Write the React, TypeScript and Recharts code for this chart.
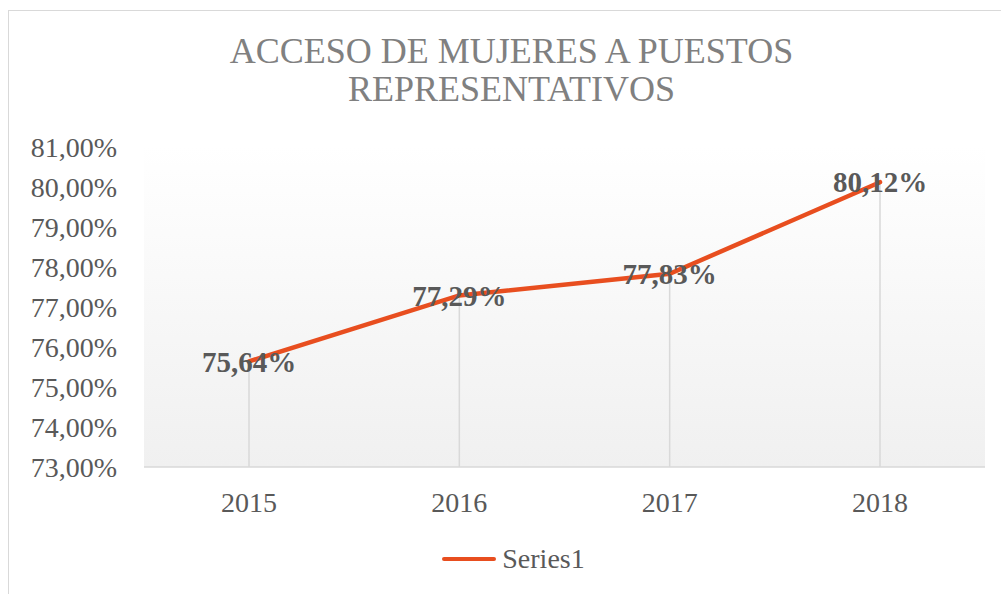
import React from "react";
import {
  LineChart,
  Line,
  XAxis,
  YAxis,
  CartesianGrid,
  ReferenceLine,
  LabelList,
  Legend,
} from "recharts";

const years = ["2015", "2016", "2017", "2018"];
const series1 = [0.7564, 0.7729, 0.7783, 0.8012];
const yTicks = [0.73, 0.74, 0.75, 0.76, 0.77, 0.78, 0.79, 0.8, 0.81];
const titleLines = ["ACCESO DE MUJERES A PUESTOS", "REPRESENTATIVOS"];

const data = years.map((year, i) => ({ year, value: series1[i] }));

const FONT = "Liberation Serif, Times New Roman, serif";
const LINE_COLOR = "#E84E1F";
const TEXT_COLOR = "#595959";

const pct = (v: number) => (v * 100).toFixed(2).replace(".", ",") + "%";

const tickStyle = { fontFamily: FONT, fontSize: 28, fill: TEXT_COLOR };

function LegendContent() {
  return (
    <div
      style={{
        display: "flex",
        justifyContent: "center",
        alignItems: "center",
        fontFamily: FONT,
        fontSize: 28,
        color: TEXT_COLOR,
      }}
    >
      <span
        style={{
          display: "inline-block",
          width: 54,
          height: 4,
          borderRadius: 2,
          background: LINE_COLOR,
          marginRight: 6,
        }}
      />
      <span>Series1</span>
    </div>
  );
}

export default function App() {
  return (
    <div
      style={{
        position: "fixed",
        left: 0,
        top: 0,
        width: 1001,
        height: 594,
        overflow: "hidden",
        background: "#fff",
        fontFamily: FONT,
      }}
    >
      <div
        style={{
          position: "absolute",
          left: 8,
          top: 10,
          width: 1100,
          height: 700,
          border: "1px solid #d9d9d9",
        }}
      />
      <div
        style={{
          position: "absolute",
          left: 0,
          top: 32,
          width: 1023,
          textAlign: "center",
          fontSize: 36,
          lineHeight: "38px",
          color: "#808080",
        }}
      >
        {titleLines.map((t) => (
          <div key={t}>{t}</div>
        ))}
      </div>
      <div style={{ position: "absolute", left: 0, top: 0 }}>
        <LineChart
          width={1001}
          height={594}
          data={data}
          margin={{ top: 147, right: 16, bottom: 0, left: 0 }}
        >
          <defs>
            <linearGradient id="plotBg" x1="0" y1="0" x2="0" y2="1">
              <stop offset="0%" stopColor="#ffffff" />
              <stop offset="100%" stopColor="#f0f0f0" />
            </linearGradient>
          </defs>
          <CartesianGrid
            horizontal={false}
            vertical={false}
            fill="url(#plotBg)"
            stroke="none"
          />
          <XAxis
            dataKey="year"
            height={127}
            padding={{ left: 105, right: 105 }}
            tickLine={false}
            tickSize={0}
            tickMargin={25}
            axisLine={{ stroke: "#d9d9d9", strokeWidth: 1.5 }}
            tick={tickStyle}
          />
          <YAxis
            width={144}
            domain={[0.73, 0.81]}
            ticks={yTicks}
            interval={0}
            tickFormatter={pct}
            tickLine={false}
            tickSize={0}
            tickMargin={27}
            axisLine={false}
            tick={tickStyle}
          />
          {/* drop lines from each point down to the axis */}
          {data.map((d) => (
            <ReferenceLine
              key={d.year}
              segment={[
                { x: d.year, y: 0.73 },
                { x: d.year, y: d.value },
              ]}
              stroke="#d9d9d9"
              strokeWidth={1.5}
            />
          ))}
          <Line
            dataKey="value"
            stroke="none"
            dot={false}
            activeDot={false}
            legendType="none"
            isAnimationActive={false}
          >
            <LabelList
              dataKey="value"
              position="center"
              formatter={(v: any) => pct(Number(v))}
              style={{
                fontFamily: FONT,
                fontSize: 29,
                fontWeight: 700,
                fill: TEXT_COLOR,
              }}
            />
          </Line>
          <Line
            dataKey="value"
            name="Series1"
            stroke={LINE_COLOR}
            strokeWidth={4.5}
            strokeLinecap="round"
            dot={false}
            activeDot={false}
            isAnimationActive={false}
          />
          <Legend
            verticalAlign="middle"
            align="center"
            layout="horizontal"
            content={() => <LegendContent />}
            wrapperStyle={{ top: 543, left: 13, width: 1001 }}
          />
        </LineChart>
      </div>
    </div>
  );
}
